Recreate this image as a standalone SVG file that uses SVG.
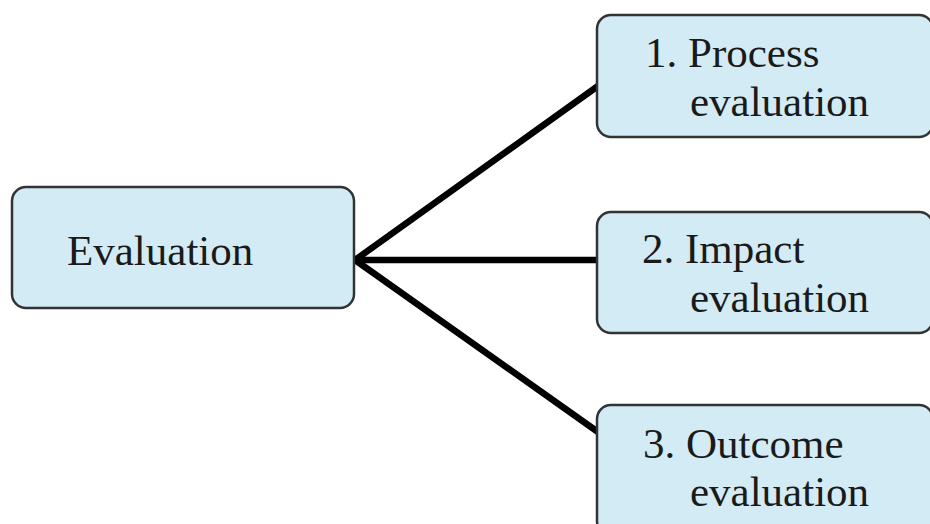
<svg xmlns="http://www.w3.org/2000/svg" width="930" height="524" viewBox="0 0 930 524">
<style>
.box{fill:#d3ebf5;stroke:#333;stroke-width:2.5}
.t{font-family:"Liberation Serif","Times New Roman",serif;font-size:43px;fill:#1a1a1a}
.c{stroke:#000;stroke-width:6.5;fill:none;stroke-linecap:round}
</style>
<rect width="930" height="524" fill="#fff"/>
<g id="connectors">
<line class="c" x1="355" y1="260" x2="598" y2="86"/>
<line class="c" x1="355" y1="260" x2="598" y2="260"/>
<line class="c" x1="355" y1="260" x2="598" y2="432"/>
</g>
<g id="evaluation">
<rect class="box" x="12" y="187" width="342" height="121" rx="14"/>
<text class="t" x="67" y="265">Evaluation</text>
</g>
<g id="process">
<rect class="box" x="597" y="15" width="336" height="122" rx="14"/>
<text class="t" x="645" y="67">1. Process</text>
<text class="t" x="690" y="116">evaluation</text>
</g>
<g id="impact">
<rect class="box" x="597" y="212" width="336" height="121" rx="14"/>
<text class="t" x="642" y="263">2. Impact</text>
<text class="t" x="690" y="312">evaluation</text>
</g>
<g id="outcome">
<rect class="box" x="597" y="405" width="336" height="130" rx="14"/>
<text class="t" x="643" y="458">3. Outcome</text>
<text class="t" x="690" y="506">evaluation</text>
</g>
</svg>
